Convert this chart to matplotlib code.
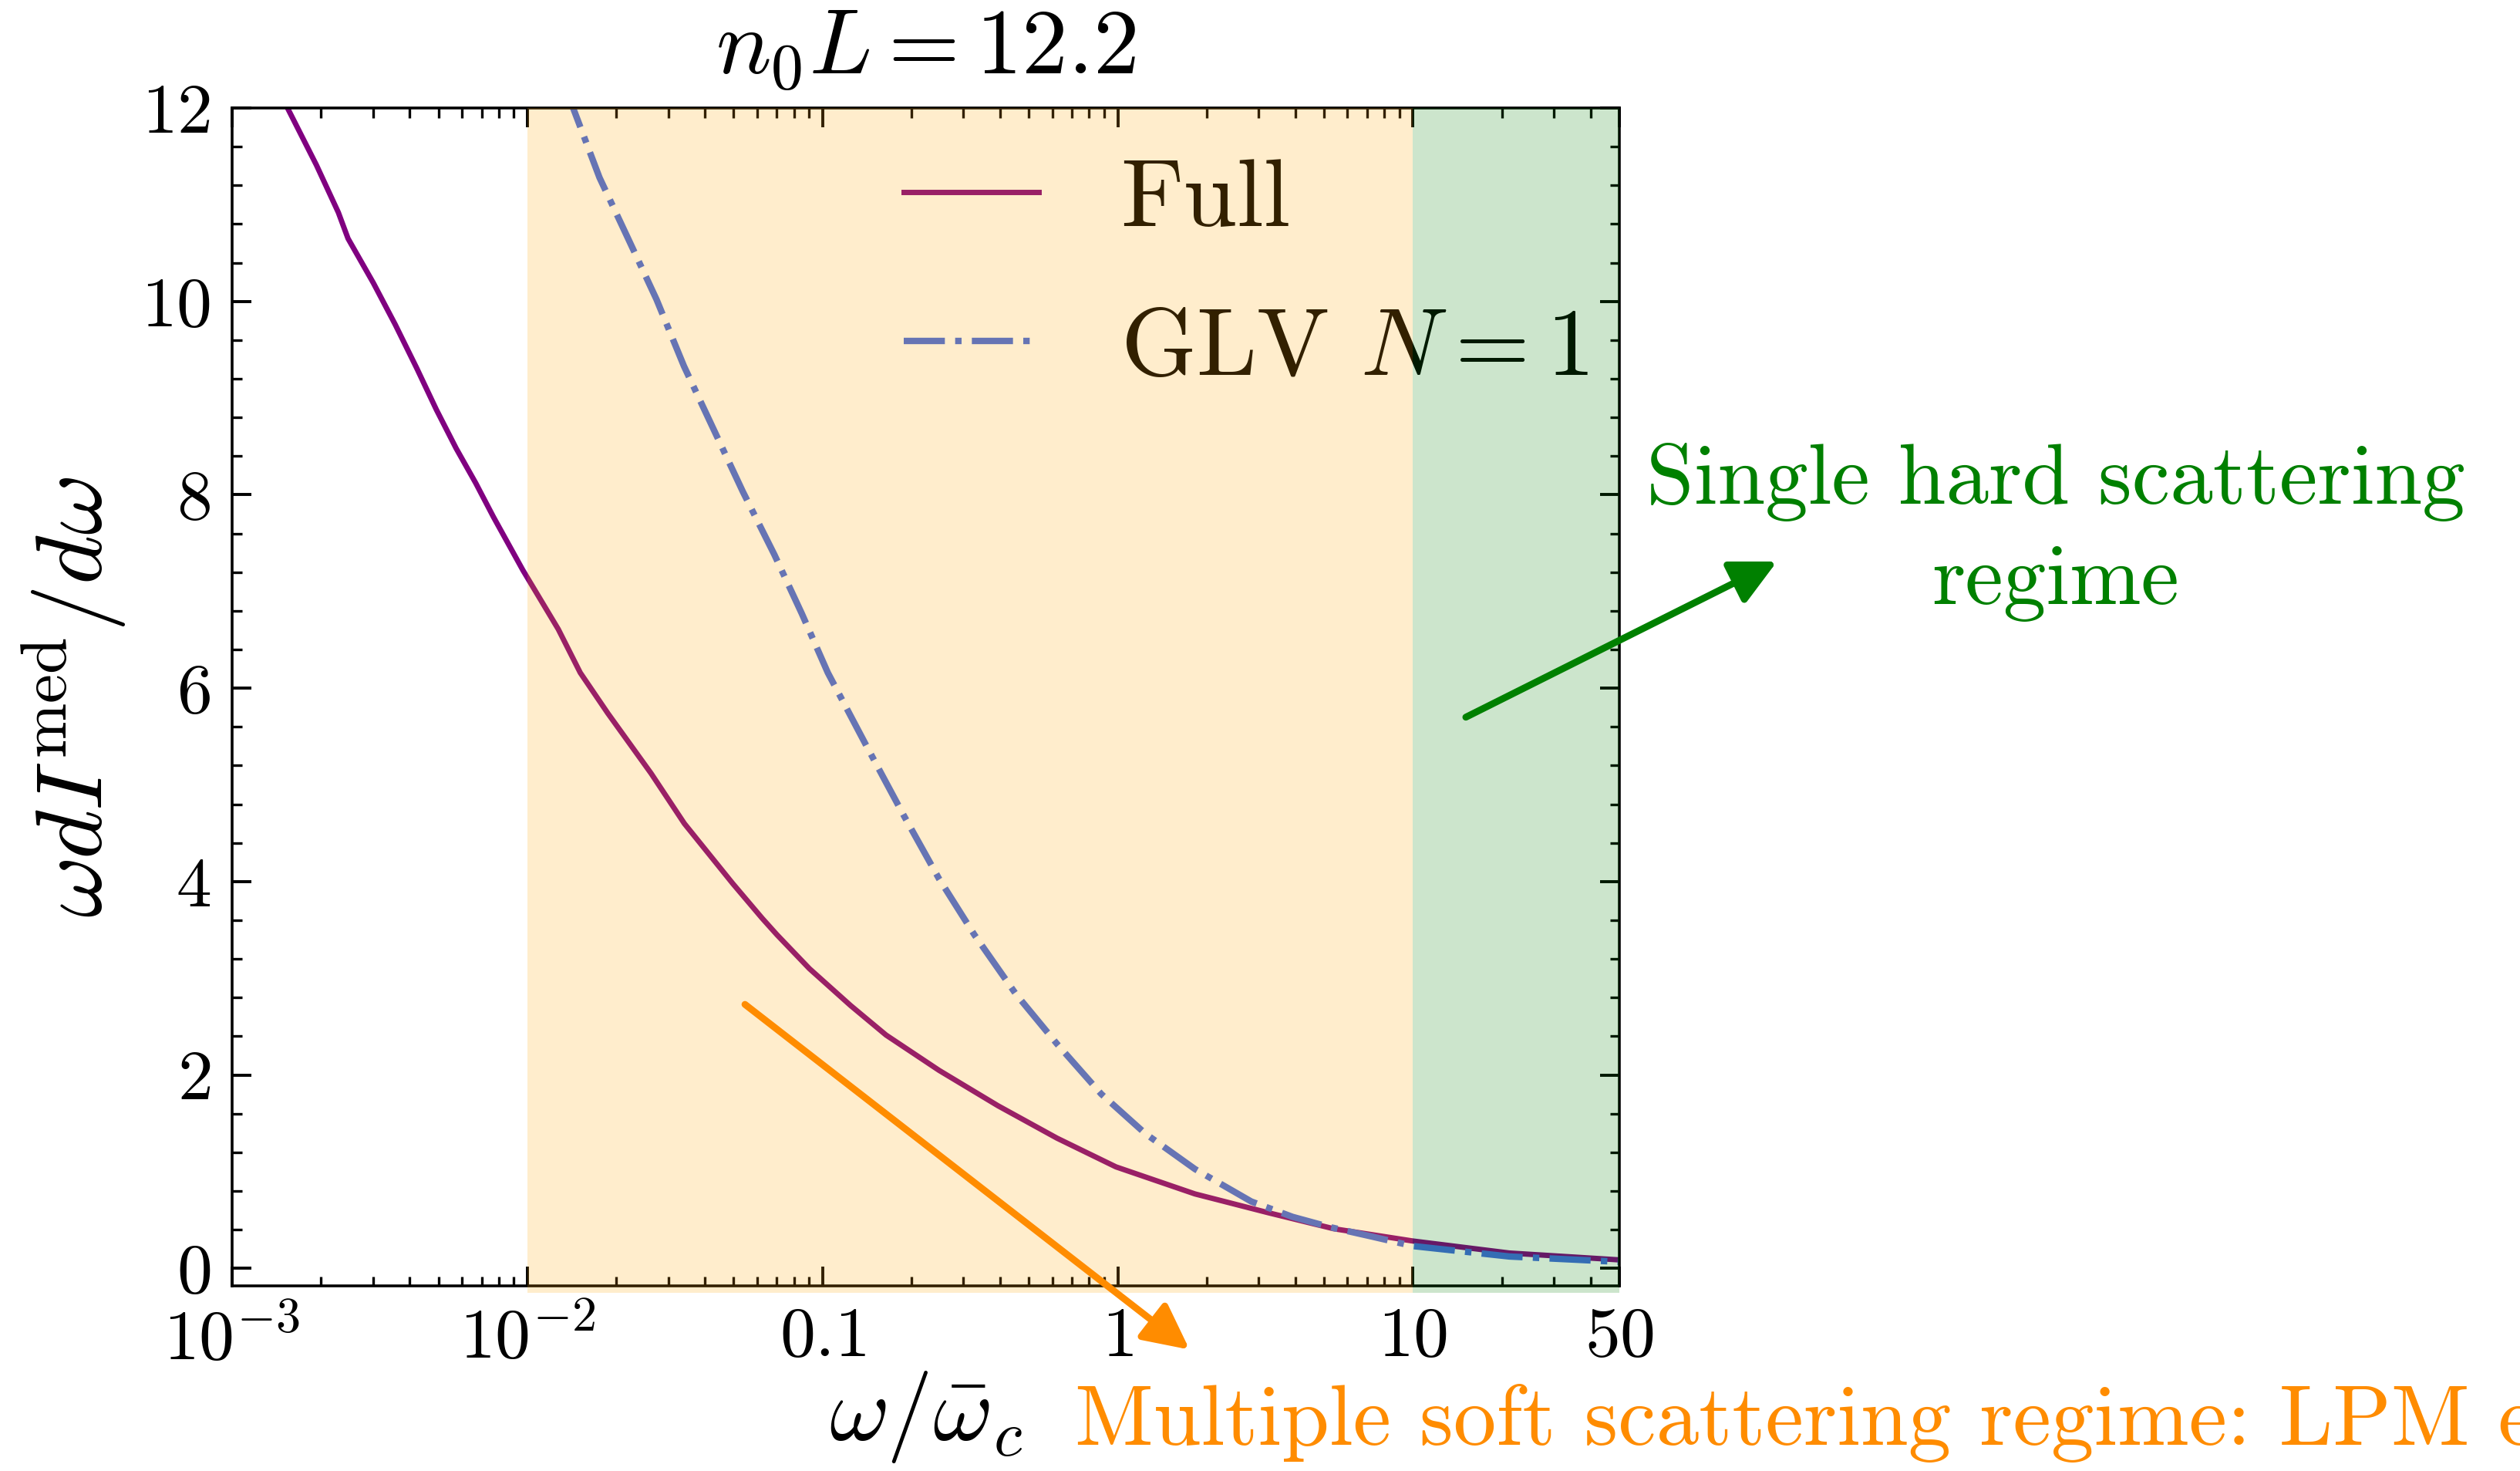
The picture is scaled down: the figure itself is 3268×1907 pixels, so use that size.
import numpy as np
import matplotlib
matplotlib.use('Agg')
import matplotlib.pyplot as plt
from matplotlib.ticker import MultipleLocator, LogLocator, FixedLocator, FixedFormatter, NullFormatter

plt.rcParams['font.family'] = 'serif'
plt.rcParams['font.serif'] = ['cmr10']
plt.rcParams['mathtext.fontset'] = 'cm'
plt.rcParams['axes.unicode_minus'] = False
plt.rcParams['axes.formatter.use_mathtext'] = True

# data
full_x = [0.0015, 0.00193, 0.00229, 0.00247, 0.00301, 0.00357, 0.00422, 0.00492, 0.00574,
          0.00669, 0.00768, 0.00966, 0.01273, 0.01511, 0.01874, 0.02624, 0.03404, 0.04963,
          0.06247, 0.07009, 0.09024, 0.1245, 0.1641, 0.2481, 0.3928, 0.6223, 0.9856,
          1.826, 3.24, 5.39, 10, 21.2, 50]
full_y = [12.07, 11.41, 10.92, 10.65, 10.19, 9.76, 9.31, 8.88, 8.48,
          8.12, 7.77, 7.22, 6.61, 6.16, 5.74, 5.12, 4.60, 3.98,
          3.62, 3.45, 3.10, 2.718, 2.413, 2.048, 1.682, 1.347, 1.05,
          0.77, 0.575, 0.41, 0.283, 0.159, 0.088]
glv_x = [0.0135, 0.01756, 0.0221, 0.02739, 0.03393, 0.04271, 0.05375, 0.0687, 0.0851,
         0.1042, 0.1416, 0.1884, 0.2481, 0.3268, 0.451, 0.6223, 0.8787, 1.241, 1.826,
         2.832, 3.908, 5.25, 7.24, 10, 21.2, 50]
glv_y = [12.2, 11.28, 10.63, 10.02, 9.33, 8.68, 8.03, 7.38, 6.77,
         6.16, 5.39, 4.684, 4.029, 3.45, 2.84, 2.322, 1.804, 1.393, 1.027,
         0.692, 0.533, 0.426, 0.33, 0.231, 0.123, 0.068]
xticks = [1e-3, 1e-2, 0.1, 1, 10, 50]
xticklabels = [r'$10^{-3}$', r'$10^{-2}$', r'$0.1$', r'$1$', r'$10$', r'$50$']

fig = plt.figure(figsize=(16.34, 9.535), dpi=200)
ax = fig.add_axes([0.0921, 0.1259, 0.5505, 0.8007])

ax.plot(full_x, full_y, color='purple', lw=2.5, label='Full')
ax.plot(glv_x, glv_y, color='royalblue', lw=3, ls='-.', label=r'GLV $N=1$')

# regimes
ax.axvspan(1e-2, 10, ymin=-0.006, color='orange', alpha=0.2, lw=0, zorder=10, clip_on=False)
ax.axvspan(10, 50, ymin=-0.006, color='green', alpha=0.2, lw=0, zorder=10, clip_on=False)

ax.set_xscale('log')
ax.set_xlim(1e-3, 50)
ax.set_ylim(-0.18, 12)
ax.xaxis.set_major_locator(FixedLocator(xticks))
ax.xaxis.set_major_formatter(FixedFormatter(xticklabels))
ax.xaxis.set_minor_locator(LogLocator(base=10, subs=np.arange(2, 10), numticks=20))
ax.xaxis.set_minor_formatter(NullFormatter())
ax.yaxis.set_major_locator(MultipleLocator(2))
ax.yaxis.set_minor_locator(MultipleLocator(0.4))

ax.tick_params(which='both', direction='in', top=True, right=True, labelsize=33, pad=10)
ax.tick_params(which='major', length=9, width=1.4)
ax.tick_params(which='minor', length=4.5, width=1.2)
for s in ax.spines.values():
    s.set_linewidth(1.3)

ax.set_xlabel(r'$\omega/\bar{\omega}_c$', fontsize=43, labelpad=-2)
ax.set_ylabel(r'$\omega dI^{\rm med}/d\omega$', fontsize=44, labelpad=6)
ax.set_title(r'$n_0L = 12.2$', fontsize=43, pad=16)

ax.legend(loc='upper left', bbox_to_anchor=(0.484, 0.957), frameon=False, fontsize=45,
          handlelength=1.4, handletextpad=0.85, labelspacing=0.65, borderpad=0, borderaxespad=0)

# annotations
ax.annotate('', xy=(1.75, -0.84), xytext=(0.0546, 2.73),
            arrowprops=dict(arrowstyle='-|>', color='darkorange', lw=3.2, mutation_scale=45,
                            shrinkA=0, shrinkB=0),
            annotation_clip=False, zorder=11)
ax.annotate('', xy=(171, 7.31), xytext=(15.1, 5.70),
            arrowprops=dict(arrowstyle='-|>', color='green', lw=3.2, mutation_scale=45,
                            shrinkA=0, shrinkB=0),
            annotation_clip=False, zorder=11)
fig.text(0.8158, 0.6382, 'Single hard scattering\nregime', color='green', fontsize=40,
         ha='center', va='center', multialignment='center', linespacing=1.38)
fig.text(0.4266, 0.0178, 'Multiple soft scattering regime: LPM effect', color='darkorange',
         fontsize=40, ha='left', va='baseline')

fig.savefig('out.png', dpi=200)
